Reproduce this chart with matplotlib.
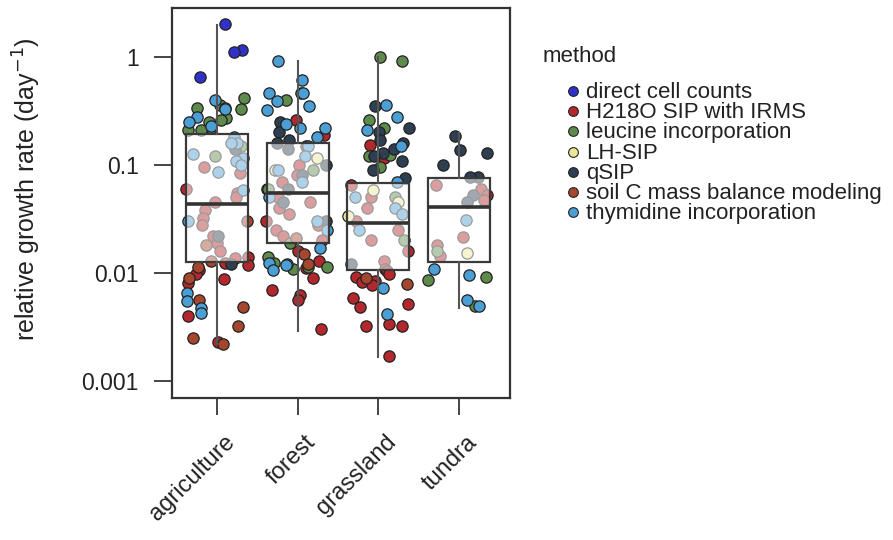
import numpy as np
import matplotlib.pyplot as plt
from matplotlib.lines import Line2D
from matplotlib.transforms import ScaledTranslation

plt.rcParams['font.family'] = ['Liberation Sans', 'DejaVu Sans']

# ecosystems on x axis
biomes = ['agriculture', 'forest', 'grassland', 'tundra']
methods = ['direct cell counts', 'H218O SIP with IRMS', 'leucine incorporation',
           'LH-SIP', 'qSIP', 'soil C mass balance modeling', 'thymidine incorporation']
colors = ['#3131c9', '#b3282c', '#5e8a4c', '#ece59a', '#2e3f52', '#a5472e', '#4b9fd5']

# growth rates (day^-1) per method, one list per biome
direct_counts = [[2.0, 1.15, 1.1, 0.65], [], [], []]
h218o_sip = [
    [0.095, 0.085, 0.06, 0.055, 0.05, 0.045, 0.038, 0.032, 0.028, 0.022, 0.019, 0.016,
     0.014, 0.0138, 0.0125, 0.0118, 0.0107, 0.0098, 0.0088, 0.008, 0.004, 0.0023],
    [0.26, 0.19, 0.15, 0.1, 0.08, 0.07, 0.06, 0.05, 0.045, 0.04, 0.035, 0.03, 0.028,
     0.025, 0.022, 0.02, 0.016, 0.013, 0.0111, 0.0089, 0.0069, 0.0062, 0.0056, 0.003],
    [0.153, 0.116, 0.065, 0.05, 0.04, 0.03, 0.025, 0.02, 0.016, 0.013, 0.011, 0.0105,
     0.0098, 0.0092, 0.0085, 0.0083, 0.0078, 0.0059, 0.0052, 0.0048, 0.0034, 0.0032,
     0.0032, 0.0017],
    [0.065, 0.06, 0.053, 0.047, 0.0215, 0.018, 0.0145],
]
leucine = [
    [0.42, 0.36, 0.34, 0.33, 0.27, 0.26, 0.25, 0.22, 0.21, 0.21, 0.15, 0.12],
    [0.46, 0.4, 0.09, 0.06, 0.019, 0.014, 0.0125, 0.0114, 0.0114, 0.011],
    [1.0, 0.92, 0.26, 0.22, 0.124, 0.12, 0.096, 0.05, 0.02],
    [0.016, 0.0092, 0.0086, 0.0049],
]
lh_sip = [[], [0.116, 0.09], [0.059, 0.045, 0.034], [0.0153]]
qsip = [
    [0.14, 0.022, 0.012],
    [0.25, 0.2, 0.17, 0.16, 0.14, 0.1, 0.08, 0.06, 0.045, 0.03],
    [0.35, 0.22, 0.2, 0.17, 0.16, 0.14, 0.13, 0.12, 0.11, 0.09, 0.075, 0.012],
    [0.186, 0.138, 0.13, 0.1, 0.077, 0.077, 0.053, 0.045],
]
soil_c = [
    [0.03, 0.018, 0.013, 0.0114, 0.009, 0.0056, 0.0048, 0.0032, 0.0025, 0.0022],
    [0.021, 0.015, 0.012],
    [0.009, 0.0079],
    [],
]
thymidine = [
    [0.4, 0.34, 0.33, 0.28, 0.25, 0.23, 0.18, 0.16, 0.16, 0.126, 0.116, 0.11, 0.1,
     0.086, 0.059, 0.03, 0.0065, 0.0055, 0.0047, 0.0043],
    [0.92, 0.61, 0.46, 0.46, 0.39, 0.35, 0.32, 0.24, 0.22, 0.22, 0.18, 0.15, 0.12,
     0.09, 0.07, 0.05, 0.03, 0.025, 0.017, 0.0125, 0.012, 0.0119, 0.0106],
    [0.36, 0.28, 0.21, 0.15, 0.07, 0.05, 0.04, 0.035, 0.025, 0.0073, 0.0042],
    [0.031, 0.011, 0.0095, 0.0056, 0.005],
]
all_methods = [direct_counts, h218o_sip, leucine, lh_sip, qsip, soil_c, thymidine]

# box summaries
box_q1 = [0.0127, 0.019, 0.0107, 0.0127]
box_med = [0.0435, 0.055, 0.029, 0.041]
box_q3 = [0.194, 0.16, 0.068, 0.076]
whisk_lo = [0.0022, 0.0029, 0.00166, 0.0047]
whisk_hi = [1.98, 0.92, 1.0, 0.198]

W, H = 893, 540
fig = plt.figure(figsize=(W / 100, H / 100), dpi=100)
ax = fig.add_axes([172 / W, 1 - 398 / H, 338 / W, 390 / H])

rng = np.random.default_rng(7)
for m, vals in enumerate(all_methods):
    for i, v in enumerate(vals):
        if not v:
            continue
        x = i + 1 + rng.uniform(-0.39, 0.39, len(v))
        ax.scatter(x, v, s=66, color=colors[m], edgecolor='#222222', linewidth=0.9, zorder=2)

stats = [dict(q1=box_q1[i], med=box_med[i], q3=box_q3[i], whislo=whisk_lo[i],
              whishi=whisk_hi[i], fliers=[]) for i in range(4)]
ax.bxp(stats, positions=[1, 2, 3, 4], widths=0.77, patch_artist=True, showcaps=False,
       boxprops=dict(facecolor=(1, 1, 1, 0.55), edgecolor='#3a3a3a', linewidth=1.6),
       medianprops=dict(color='#333333', linewidth=2.6),
       whiskerprops=dict(color='#555555', linewidth=1.5), zorder=3)

ax.set_yscale('log')
ax.set_ylim(0.000696, 2.84)
ax.set_xlim(0.443, 4.632)
ax.set_yticks([0.001, 0.01, 0.1, 1])
ax.set_yticklabels(['0.001', '0.01', '0.1', '1'])
ax.minorticks_off()
ax.set_xticks([1, 2, 3, 4])
ax.set_xticklabels(biomes, rotation=45, ha='right', va='top', rotation_mode='anchor')
ax.tick_params(axis='both', width=1.4, color='#444444', labelcolor='#222222')
ax.tick_params(axis='y', labelsize=16.5, length=13, pad=11)
ax.tick_params(axis='x', labelsize=17, length=12, pad=12)
shift = ScaledTranslation(5 / 72, 0, fig.dpi_scale_trans)
for lab in ax.get_xticklabels():
    lab.set_transform(lab.get_transform() + shift)
for sp in ax.spines.values():
    sp.set_linewidth(1.6)
    sp.set_color('#333333')
ax.set_ylabel('relative growth rate (day$^{-1}$)', fontsize=18, color='#222222')
ax.yaxis.set_label_coords((43 - 172) / 338, (398 - 189) / 390)

# legend, laid out like the reference (tight rows)
fig.text(543 / W, 1 - 62 / H, 'method', fontsize=16, color='#222222', va='baseline')
for j, (lab, c) in enumerate(zip(methods, colors)):
    base = 98 + 20.2 * j
    fig.add_artist(Line2D([573 / W], [1 - (base - 7) / H], marker='o', linestyle='none',
                          markersize=7, markerfacecolor=c, markeredgecolor='#222222',
                          markeredgewidth=0.8, transform=fig.transFigure))
    fig.text(586 / W, 1 - base / H, lab, fontsize=16, color='#222222', va='baseline')

fig.savefig('out.png', dpi=100)
